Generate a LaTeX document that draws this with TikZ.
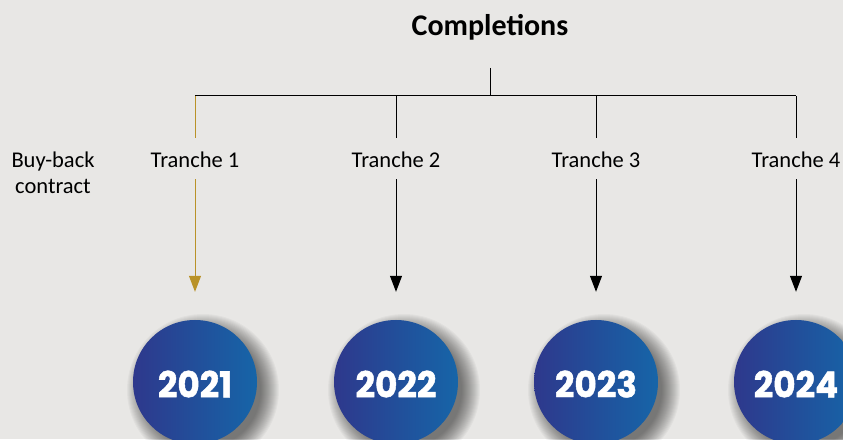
\documentclass[tikz,border=0pt]{standalone}
\usepackage{fontspec}
\setmainfont{Carlito}
\newfontfamily\yearfont{Poppins}[BoldFeatures={FakeBold=1.2}, FakeStretch=0.95]
\usetikzlibrary{arrows.meta}
\usetikzlibrary{calc}
\definecolor{bg}{RGB}{232,231,229}
\definecolor{gold}{RGB}{185,146,40}
\definecolor{yearleft}{RGB}{46,56,140}
\definecolor{yearright}{RGB}{22,101,168}
\tikzstyle{tranche} = [anchor=base,
	text height=19pt, text depth=0pt,
	inner ysep=11pt, inner xsep=0pt,
	font=\fontsize{22.5}{27}\selectfont]
\tikzstyle{arrow} = [-{Triangle[length=16pt, width=12pt]}, line width=1pt]
\tikzstyle{year} = [circle,
	minimum size=124pt, inner sep=0pt,
	left color=yearleft, right color=yearright,
	text=white, text height=31pt,
	font=\yearfont\bfseries\fontsize{36}{40}\selectfont]
\newcommand{\drawtranche}[5]{\node[tranche] (t#1) at (#2, 271) {#3};
	\coordinate (top#1) at (#2, 343);
	\foreach \r in {58,...,76} \fill[black, opacity=0.03] (#2+8, 49) circle (\r pt);
	\node[year] (y#1) at (#2, 57) {#4};
	\draw[#5, line width=1pt] (top#1) -- (t#1);
	\draw[arrow, #5] (t#1) -- ($ (y#1.north) + (0, 28) $)}

\begin{document}
\begin{tikzpicture}[x=1pt, y=1pt]
	\useasboundingbox[fill=bg] (0,0) rectangle (843,439);
	
	\node (compl) [anchor=base, font=\bfseries\fontsize{30}{36}\selectfont] at (490, 403) {Completions};
	\coordinate (cstem) at (490, 371);
	\coordinate (cjoin) at (490, 343);
	
	\node (buyback) [anchor=base, align=center, font=\fontsize{22.5}{26}\selectfont] at (53, 245) {Buy-back\\contract};
	
	\drawtranche{1}{195}{Tranche 1}{2021}{gold};
	\drawtranche{2}{396}{Tranche 2}{2022}{black};
	\drawtranche{3}{596}{Tranche 3}{2023}{black};
	\drawtranche{4}{796}{Tranche 4}{2024}{black};
	
	%ветвление
	\draw[line width=1pt] (cstem) -- (cjoin);
	\draw[line width=1pt] (top1) -- (top4);
\end{tikzpicture}
\end{document}
